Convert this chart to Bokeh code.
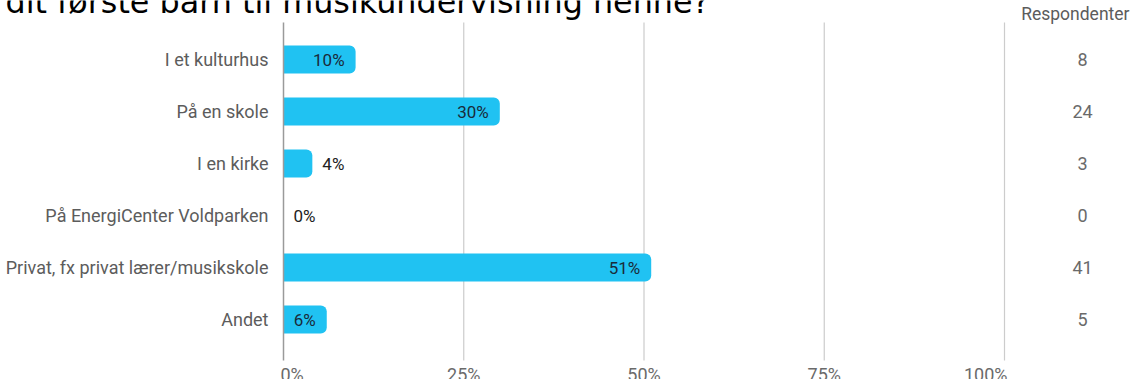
from bokeh.plotting import figure
from bokeh.models import Range1d, ColumnDataSource
from bokeh.core.properties import value
from bokeh.embed import file_html
from bokeh.resources import INLINE

# ---- data ----
title_text = "dit første barn til musikundervisning henne?"
categories = ["I et kulturhus", "På en skole", "I en kirke",
              "På EnergiCenter Voldparken", "Privat, fx privat lærer/musikskole", "Andet"]
percent = [10, 30, 4, 0, 51, 6]
respondents = [8, 24, 3, 0, 41, 5]
x_ticks = [0, 25, 50, 75, 100]
x_tick_labels = ["0%", "25%", "50%", "75%", "100%"]
count_header = "Respondenter"

# ---- geometry (pixels) ----
W, H = 1131, 379
X0_PX = 283.0          # canvas x of 0%
PX_PER_PCT = 7.21      # pixels per percent
ROW0_PX = 59.0         # canvas y of first row centre
ROW_PX = 52.0          # pixels between rows

def xd(px):
    return (px - X0_PX) / PX_PER_PCT

def yd(px):
    return (px - ROW0_PX) / ROW_PX

p = figure(width=W, height=H, output_backend="svg", toolbar_location=None,
           x_range=Range1d(xd(0), xd(W)), y_range=Range1d(yd(H), yd(0)),
           min_border=0, outline_line_color=None)
p.axis.visible = False
p.grid.visible = False
p.background_fill_color = "white"
p.border_fill_color = "white"

rows = list(range(len(categories)))
FONT = value("Roboto")

# clipped title fragment at top
p.text(x=[xd(5)], y=[yd(1)], text=[title_text], text_font=value("DejaVu Sans"),
       text_font_size="31.8px", text_color="black", text_align="left",
       text_baseline="alphabetic")

# gridlines
g_top, g_bot = yd(22), yd(360)
p.segment(x0=x_ticks[1:], x1=x_ticks[1:], y0=[g_top] * 4, y1=[g_bot] * 4,
          line_color="#cccccc", line_width=1.2)

# bars
src = ColumnDataSource(dict(y=rows, right=percent))
p.hbar(y="y", left=0, right="right", height=28 / ROW_PX, source=src,
       fill_color="#20c2f2", line_color=None, border_radius=(0, 6, 6, 0))

# zero axis line
p.segment(x0=[0], x1=[0], y0=[g_top], y1=[g_bot], line_color="#9a9a9a", line_width=1.5)

# value labels
ins_x, ins_y, ins_t, out_x, out_y, out_t = [], [], [], [], [], []
for i, v in enumerate(percent):
    lab = f"{v}%"
    if v * PX_PER_PCT >= 40:
        ins_x.append(v); ins_y.append(i); ins_t.append(lab)
    else:
        out_x.append(v); out_y.append(i); out_t.append(lab)
p.text(x=ins_x, y=ins_y, text=ins_t, x_offset=-11, text_align="right",
       text_baseline="middle", text_font=FONT, text_font_size="17px", text_color="#1a2b3a")
p.text(x=out_x, y=out_y, text=out_t, x_offset=10, text_align="left",
       text_baseline="middle", text_font=FONT, text_font_size="17px", text_color="#222222")

# category labels
p.text(x=[0] * len(categories), y=rows, text=categories, x_offset=-15,
       text_align="right", text_baseline="middle", text_font=FONT,
       text_font_size="18px", text_color="#5c5c5c")

# respondent counts
cx = xd(1082)
p.text(x=[xd(1129)], y=[yd(13)], text=[count_header], text_align="right",
       text_baseline="middle", text_font=FONT, text_font_size="17.5px", text_color="#5c5c5c")
p.text(x=[cx] * len(respondents), y=rows, text=[str(r) for r in respondents],
       text_align="center", text_baseline="middle", text_font=FONT,
       text_font_size="18px", text_color="#6a6a6a")

# x tick labels
ty = yd(363)
p.text(x=[x_ticks[0]], y=[ty], text=[x_tick_labels[0]], x_offset=-3, text_align="left",
       text_baseline="top", text_font=FONT, text_font_size="18px", text_color="#6a6a6a")
p.text(x=x_ticks[1:-1], y=[ty] * 3, text=x_tick_labels[1:-1], text_align="center",
       text_baseline="top", text_font=FONT, text_font_size="18px", text_color="#6a6a6a")
p.text(x=[x_ticks[-1]], y=[ty], text=[x_tick_labels[-1]], x_offset=3, text_align="right",
       text_baseline="top", text_font=FONT, text_font_size="18px", text_color="#6a6a6a")

open("out.html", "w").write(file_html(p, INLINE))
